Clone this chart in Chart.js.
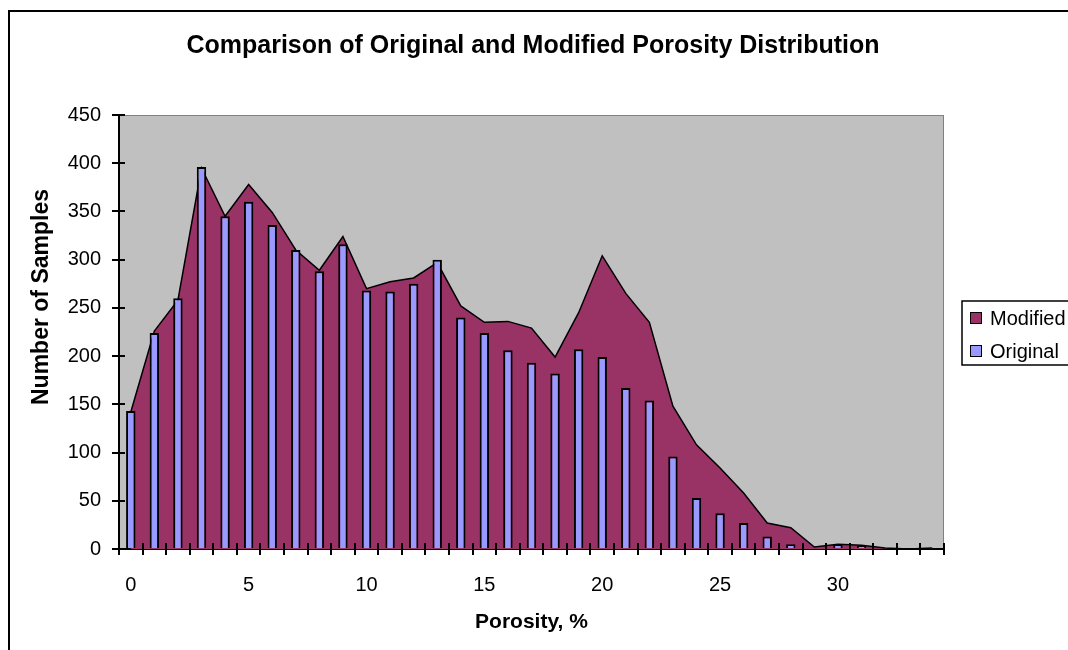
<!DOCTYPE html>
<html>
<head>
<meta charset="utf-8">
<script src="https://cdn.jsdelivr.net/npm/chart.js@4.4.1/dist/chart.umd.min.js"></script>
<style>
  html, body { margin: 0; padding: 0; background: #fff; }
  canvas { display: block; }
</style>
</head>
<body>
<canvas id="chart" width="1068" height="650"></canvas>
<script>
// porosity classes (%), one per category
const porosity = ['0', '1', '2', '3', '4', '5', '6', '7', '8', '9',
  '10', '11', '12', '13', '14', '15', '16', '17', '18', '19',
  '20', '21', '22', '23', '24', '25', '26', '27', '28', '29',
  '30', '31', '32', '33', '34'];

// number of samples per class
const modified = [142, 226, 258, 395, 345, 378, 349, 310, 289, 324,
  270, 277, 281, 297, 252, 235, 236, 229, 199, 245,
  304, 265, 235, 148, 108, 84, 58, 27, 22, 2,
  5, 4, 1, 0, 1];
const original = [143, 224, 260, 396, 345, 360, 336, 310, 288, 316,
  268, 267, 275, 300, 240, 224, 206, 193, 182, 207,
  199, 167, 154, 96, 53, 37, 27, 13, 5, 0,
  5, 3, 0, 0, 1];

const yTicks = { min: 0, max: 450, step: 50 };
const labelEvery = 5;

const chartTitle = 'Comparison of Original and Modified Porosity Distribution';
const yTitle = 'Number of Samples';
const xTitle = 'Porosity, %';

const FONT = '"Liberation Sans", Arial, sans-serif';

// excel-ish frame: white page, outer border, grey plot area, titles, inner tick halves, legend box
const excelFrame = {
  id: 'excelFrame',
  beforeDraw(chart) {
    const { ctx, chartArea: a } = chart;
    ctx.save();
    ctx.fillStyle = '#fff';
    ctx.fillRect(0, 0, chart.width, chart.height);
    ctx.strokeStyle = '#000';
    ctx.lineWidth = 2;
    ctx.strokeRect(9, 11, chart.width + 20, chart.height + 20);
    ctx.fillStyle = '#c0c0c0';
    ctx.fillRect(a.left, a.top, a.right - a.left, a.bottom - a.top);
    ctx.strokeStyle = '#808080';
    ctx.lineWidth = 1;
    ctx.strokeRect(a.left + 0.5, a.top + 0.5, a.right - a.left - 1, a.bottom - a.top);
    ctx.restore();
  },
  afterDatasetsDraw(chart) {
    const { ctx, chartArea: a, scales: { x, y } } = chart;
    ctx.save();
    ctx.strokeStyle = '#000';
    ctx.lineWidth = 2;
    ctx.beginPath();
    y.ticks.forEach(t => {
      const py = Math.round(y.getPixelForValue(t.value));
      ctx.moveTo(a.left, py);
      ctx.lineTo(a.left + 6, py);
    });
    const n = x.ticks.length;
    for (let i = 0; i <= n; i++) {
      const px = Math.round(x.left + i * (x.width / n));
      ctx.moveTo(px, a.bottom);
      ctx.lineTo(px, a.bottom - 6);
    }
    ctx.stroke();
    ctx.restore();
  },
  afterDraw(chart) {
    const { ctx } = chart;
    ctx.save();
    ctx.fillStyle = '#000';
    ctx.textAlign = 'center';
    ctx.textBaseline = 'middle';
    ctx.font = 'bold 25px ' + FONT;
    ctx.fillText(chartTitle, 533, 46);

    ctx.save();
    ctx.translate(42, 297);
    ctx.rotate(-Math.PI / 2);
    ctx.font = 'bold 23px ' + FONT;
    ctx.fillText(yTitle, 0, 0);
    ctx.restore();

    // legend
    ctx.textAlign = 'left';
    ctx.strokeStyle = '#000';
    ctx.lineWidth = 1.5;
    ctx.strokeRect(962, 301, 200, 64);
    ctx.font = '20px ' + FONT;
    chart.data.datasets.forEach((ds, i) => {
      const top = 312 + i * 33;
      ctx.fillStyle = ds.backgroundColor;
      ctx.fillRect(970, top, 12, 12);
      ctx.lineWidth = 1;
      ctx.strokeRect(970.5, top + 0.5, 11, 11);
      ctx.fillStyle = '#000';
      ctx.fillText(ds.label, 990, top + 7);
    });
    ctx.restore();
  }
};

const ctx = document.getElementById('chart').getContext('2d');

new Chart(ctx, {
  type: 'bar',
  data: {
    labels: porosity,
    datasets: [
      {
        type: 'line',
        label: 'Modified',
        data: modified,
        order: 2,
        fill: 'origin',
        backgroundColor: '#993366',
        borderColor: '#000',
        borderWidth: 1.5,
        pointRadius: 0,
        tension: 0
      },
      {
        type: 'bar',
        label: 'Original',
        data: original,
        order: 1,
        backgroundColor: '#9999ff',
        borderColor: '#000',
        borderWidth: 2,
        barPercentage: 0.4,
        categoryPercentage: 1
      }
    ]
  },
  options: {
    responsive: false,
    animation: false,
    layout: { padding: { left: 0, top: 115, right: 124, bottom: 0 } },
    plugins: {
      legend: { display: false },
      tooltip: { enabled: false },
      title: { display: false }
    },
    scales: {
      x: {
        offset: true,
        grid: { offset: true, drawOnChartArea: false, color: '#000', lineWidth: 2, tickLength: 6 },
        border: { color: '#000', width: 2 },
        ticks: {
          autoSkip: false,
          maxRotation: 0,
          padding: 18,
          color: '#000',
          font: { family: FONT, size: 20 },
          callback: function (v, i) {
            return i % labelEvery === 0 ? this.getLabelForValue(v) : '';
          }
        },
        title: {
          display: true,
          text: xTitle,
          color: '#000',
          font: { family: FONT, size: 21, weight: 'bold' },
          padding: { top: 0, bottom: 15 }
        },
        afterFit: s => { s.height = 101; }
      },
      y: {
        min: yTicks.min,
        max: yTicks.max,
        grid: { drawOnChartArea: false, color: '#000', lineWidth: 2, tickLength: 7 },
        border: { color: '#000', width: 2 },
        ticks: {
          stepSize: yTicks.step,
          padding: 11,
          color: '#000',
          font: { family: FONT, size: 20 }
        },
        afterFit: s => { s.width = 119; }
      }
    }
  },
  plugins: [excelFrame]
});
</script>
</body>
</html>
